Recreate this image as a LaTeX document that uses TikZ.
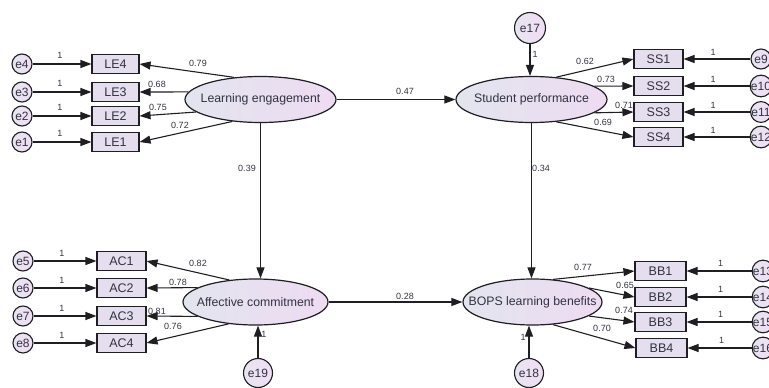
\documentclass[tikz,border=0pt]{standalone}
\usepackage{fontspec}
\setmainfont{Liberation Sans}
\usetikzlibrary{shapes.geometric,arrows.meta}
\definecolor{lnc}{RGB}{30,30,35}
\definecolor{txc}{RGB}{50,50,65}
\definecolor{boxfill}{RGB}{228,222,238}
\definecolor{latL}{RGB}{226,229,238}
\definecolor{latR}{RGB}{238,219,242}
\definecolor{errL}{RGB}{232,228,240}
\definecolor{errR}{RGB}{240,222,245}
\begin{document}
\begin{tikzpicture}[x=1pt,y=-1pt,
  every node/.style={text=txc},
  lat/.style={ellipse,draw=lnc,line width=1.2pt,left color=latL,right color=latR,minimum width=#1,minimum height=46pt,inner sep=0pt},
  lattext/.style={font=\fontsize{12.3}{14}\selectfont,inner sep=0pt},
  obs/.style={draw=lnc,line width=1.1pt,fill=boxfill,minimum width=#1,minimum height=19pt,inner sep=0pt,font=\fontsize{12.5}{14}\selectfont},
  obs/.default=47pt,
  err/.style={circle,draw=lnc,line width=1.1pt,left color=errL,right color=errR,minimum size=20pt,inner sep=0pt,font=\fontsize{12}{13}\selectfont},
  bigerr/.style={err,minimum size=#1,font=\fontsize{12}{13}\selectfont},
  coef/.style={font=\fontsize{9}{10}\selectfont,inner sep=0.5pt},
  conn/.style={draw=lnc,line width=1.1pt,-{Triangle[length=11pt,width=8pt]}}
]
\useasboundingbox (0,0) rectangle (769,388);

% latent variables
\node[lat=151pt] (le) at (260.5,99.5) {};
\node[lattext] (letxt) at (le) {Learning engagement};
\node[lat=151pt] (sp) at (531.5,99.5) {};
\node[lattext] (sptxt) at (sp) {Student performance};
\node[lat=145pt] (ac) at (255.5,302) {};
\node[lattext] (actxt) at (ac) {Affective commitment};
\node[lat=139pt] (bb) at (532.5,302) {};
\node[lattext] (bbtxt) at (bb) {BOPS learning benefits};

% LE indicators
\node[obs] (le4) at (115.5,64) {LE4};
\node[obs] (le3) at (115.5,92) {LE3};
\node[obs] (le2) at (115.5,116) {LE2};
\node[obs] (le1) at (115.5,142) {LE1};
\node[err] (e4) at (22,64) {e4};
\node[err] (e3) at (22,92) {e3};
\node[err] (e2) at (22,116) {e2};
\node[err] (e1) at (22,142) {e1};

% AC indicators
\node[obs=49pt] (ac1) at (121.5,261) {AC1};
\node[obs=49pt] (ac2) at (121.5,288) {AC2};
\node[obs=49pt] (ac3) at (121.5,316) {AC3};
\node[obs=49pt] (ac4) at (121.5,343) {AC4};
\node[err] (e5) at (23,261) {e5};
\node[err] (e6) at (23,288) {e6};
\node[err] (e7) at (23,316) {e7};
\node[err] (e8) at (23,343) {e8};

% SS indicators
\node[obs=49pt] (ss1) at (658.5,59) {SS1};
\node[obs=49pt] (ss2) at (658.5,86) {SS2};
\node[obs=49pt] (ss3) at (658.5,112) {SS3};
\node[obs=49pt] (ss4) at (658.5,137) {SS4};
\node[err] (e9) at (761,59) {e9};
\node[err] (e10) at (761,86) {e10};
\node[err] (e11) at (761,112) {e11};
\node[err] (e12) at (761,137) {e12};

% BB indicators
\node[obs=51pt] (bb1) at (660.5,271) {BB1};
\node[obs=51pt] (bb2) at (660.5,297) {BB2};
\node[obs=51pt] (bb3) at (660.5,322) {BB3};
\node[obs=51pt] (bb4) at (661.5,348) {BB4};
\node[err] (e13) at (763,271) {e13};
\node[err] (e14) at (763,297) {e14};
\node[err] (e15) at (763,322) {e15};
\node[err] (e16) at (763,348) {e16};

% structural errors
\node[bigerr=31pt] (e17) at (530,28) {e17};
\node[bigerr=29pt] (e19) at (258,373) {e19};
\node[bigerr=29pt] (e18) at (529,373) {e18};

% error -> indicator arrows
\foreach \e/\b in {e4/le4,e3/le3,e2/le2,e1/le1,e5/ac1,e6/ac2,e7/ac3,e8/ac4}
  \draw[conn] (\e.east) -- (\b.west);
\foreach \e/\b in {e9/ss1,e10/ss2,e11/ss3,e12/ss4,e13/bb1,e14/bb2,e15/bb3,e16/bb4}
  \draw[conn] (\e.west) -- (\b.east);

% loadings
\draw[conn] (le.140) -- (le4.east);
\draw[conn] (le.174) -- (le3.east);
\draw[conn] (le.191) -- (le2.east);
\draw[conn] (le.218) -- (le1.east);
\draw[conn] (sp.42) -- (ss1.west);
\draw[conn] (sp.12.6) -- (ss2.west);
\draw[conn] (sp.348.7) -- (ss3.west);
\draw[conn] (sp.318) -- (ss4.west);
\draw[conn] (ac.140.5) -- (ac1.east);
\draw[conn] (ac.166) -- (ac2.east);
\draw[conn] (ac.194) -- (ac3.east);
\draw[conn] (ac.219.5) -- (ac4.east);
\draw[conn] (bb.48) -- (bb1.west);
\draw[conn] (bb.14) -- (bb2.west);
\draw[conn] (bb.346) -- (bb3.west);
\draw[conn] (bb.312) -- (bb4.west);

% structural paths
\draw[conn] (le.east) -- (sp.west);
\draw[conn] (le.south) -- (le.south |- ac.north);
\draw[conn] (sp.south) -- (sp.south |- bb.north);
\draw[conn] (ac.east) -- (bb.west);
\draw[conn] (e17.south) -- (e17.south |- sp.north);
\draw[conn] (e19.north) -- (e19.north |- ac.south);
\draw[conn] (e18.north) -- (e18.north |- bb.south);

% coefficient labels
\node[coef] (c47) at (405,91) {0.47};
\node[coef] (c28) at (405,296) {0.28};
\node[coef] (c39) at (247,168) {0.39};
\node[coef] (c34) at (541,168) {0.34};
\node[coef] (c17) at (535,54) {1};
\node[coef] (c19) at (264,334) {1};
\node[coef] (c18) at (523,337) {1};

\node[coef] (l79) at (198,63) {0.79};
\node[coef] (l68) at (157,84) {0.68};
\node[coef] (l75) at (158,107) {0.75};
\node[coef] (l72) at (180,125) {0.72};
\node[coef] (l82) at (198,263) {0.82};
\node[coef] (l78) at (178,282) {0.78};
\node[coef] (l81) at (157,311) {0.81};
\node[coef] (l76) at (173,326) {0.76};
\node[coef] (l62) at (585,61) {0.62};
\node[coef] (l73) at (606,79) {0.73};
\node[coef] (l71) at (624,105) {0.71};
\node[coef] (l69) at (603,122) {0.69};
\node[coef] (l77) at (583,267) {0.77};
\node[coef] (l65) at (625,285) {0.65};
\node[coef] (l74) at (624,310) {0.74};
\node[coef] (l70) at (602,328) {0.70};

\foreach \b/\n in {le4/a,le3/b,le2/c,le1/d}
  \node[coef] (one\n) at ([xshift=-55.5pt,yshift=9pt]\b.center) {1};
\foreach \b/\n in {ac1/e,ac2/f,ac3/g,ac4/h}
  \node[coef] (one\n) at ([xshift=-59.5pt,yshift=8pt]\b.center) {1};
\foreach \b/\n in {ss1/i,ss2/j,ss3/k,ss4/l}
  \node[coef] (one\n) at ([xshift=54.5pt,yshift=7pt]\b.center) {1};
\foreach \b/\n in {bb1/m,bb2/n,bb3/o,bb4/p}
  \node[coef] (one\n) at ([xshift=60pt,yshift=8pt]\b.center) {1};
\end{tikzpicture}
\end{document}
